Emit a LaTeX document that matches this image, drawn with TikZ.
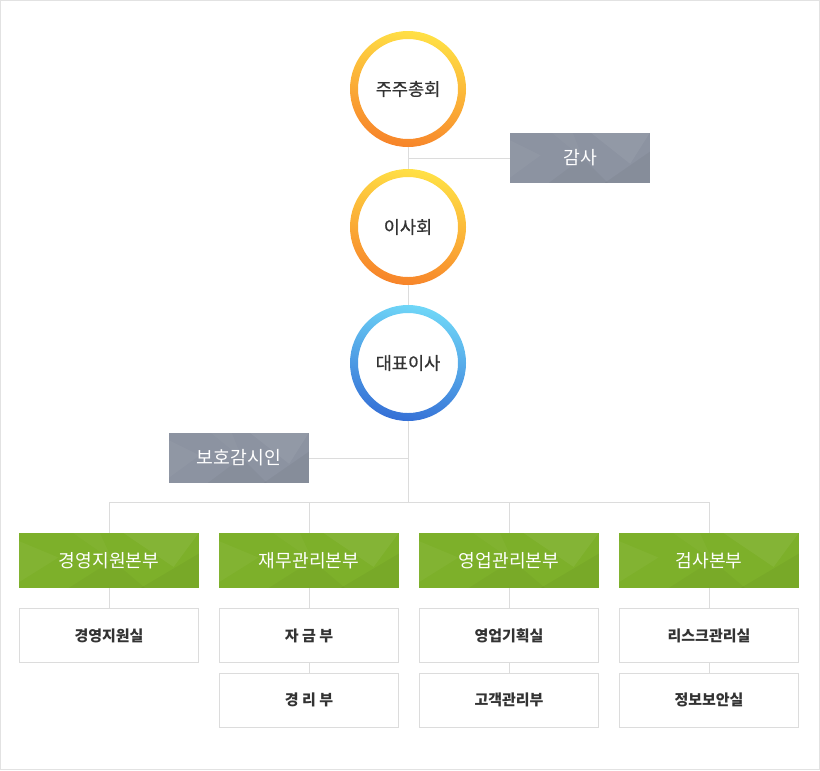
\documentclass[tikz,border=0pt]{standalone}
\usepackage{fontspec}
\setmainfont{Noto Sans CJK KR}
\newfontfamily\ringfont[FakeBold=0.6]{Noto Sans CJK KR}
\usetikzlibrary{positioning}

\definecolor{linegray}{HTML}{DCDCDC}
\definecolor{framegray}{HTML}{E2E2E2}
\definecolor{boxgray}{HTML}{8C93A1}
\definecolor{hqgreen}{HTML}{7DB02A}
\definecolor{txtdark}{HTML}{333333}
\definecolor{ringyellow}{HTML}{FFE045}
\definecolor{ringorange}{HTML}{F7842A}
\definecolor{ringcyan}{HTML}{6FD6F7}
\definecolor{ringblue}{HTML}{3570D6}

\tikzset{
  orgline/.style={draw=linegray, line width=0.03cm},
  ringtext/.style={circle, minimum size=3.48cm, inner sep=0pt, text=txtdark,
    font=\ringfont\fontsize{15}{17}\selectfont},
  sidebox/.style={rectangle, fill=boxgray, minimum width=4.2cm, minimum height=1.5cm,
    inner sep=0pt, text=white, font=\fontsize{15.6}{17}\selectfont},
  hqbox/.style={rectangle, fill=hqgreen, minimum width=5.4cm, minimum height=1.65cm,
    inner sep=0pt, text=white, font=\fontsize{15.5}{17}\selectfont},
  deptbox/.style={rectangle, draw=linegray, fill=white, line width=0.03cm,
    minimum width=5.37cm, minimum height=1.62cm, inner sep=0pt, text=txtdark,
    font=\fontsize{12.8}{14}\selectfont\bfseries},
  pics/facets/.style={code={
    \fill[white, opacity=.06] (0.58,0) -- (1,0) -- (0.86,0.62) -- cycle;
    \fill[white, opacity=.04] (0,0.15) -- (0.22,0.45) -- (0,0.9) -- cycle;
    \fill[black, opacity=.04] (0.68,1) -- (1,0.38) -- (1,1) -- cycle;
    \fill[black, opacity=.03] (0.28,1) -- (0.52,0.5) -- (0.7,1) -- cycle;
    \fill[white, opacity=.03] (0.3,0) -- (0.45,0) -- (0.52,0.5) -- cycle;
  }}
}

\begin{document}
\begin{tikzpicture}[x=0.03cm, y=-0.03cm]
  \useasboundingbox (0,0) rectangle (820,770);
  \draw[framegray, line width=0.03cm] (0.5,0.5) rectangle (819.5,769.5);

  % rings
  \shade[even odd rule, top color=ringyellow, bottom color=ringorange, shading angle=-12]
    (408,89) circle (1.74cm) (408,89) circle (1.5cm);
  \shade[even odd rule, top color=ringyellow, bottom color=ringorange, shading angle=-12]
    (408,227) circle (1.74cm) (408,227) circle (1.5cm);
  \shade[even odd rule, top color=ringcyan, bottom color=ringblue, shading angle=-12]
    (408,363) circle (1.74cm) (408,363) circle (1.5cm);

  \node[ringtext] (gms) at (408,89) {주주총회};
  \node[ringtext] (board) at (408,227) {이사회};
  \node[ringtext] (ceo) at (408,363) {대표이사};

  % side boxes
  \node[sidebox] (audit) at (580,158) {감사};
  \node[sidebox] (guard) at (239,458) {보호감시인};
  \pic[xscale=140, yscale=50] at (audit.north west) {facets};
  \pic[xscale=140, yscale=50] at (guard.north west) {facets};

  % headquarters
  \node[hqbox] (hqa) at (109,560.5) {경영지원본부};
  \node[hqbox] (hqb) at (309,560.5) {재무관리본부};
  \node[hqbox] (hqc) at (509,560.5) {영업관리본부};
  \node[hqbox] (hqd) at (709,560.5) {검사본부};
  \foreach \h in {hqa,hqb,hqc,hqd}
    \pic[xscale=180, yscale=55] at (\h.north west) {facets};

  % departments
  \node[deptbox] (da1) at (109,635.5) {경영지원실};
  \node[deptbox] (db1) at (309,635.5) {자 금 부};
  \node[deptbox] (db2) at (309,700) {경 리 부};
  \node[deptbox] (dc1) at (509,635.5) {영업기획실};
  \node[deptbox] (dc2) at (509,700) {고객관리부};
  \node[deptbox] (dd1) at (709,635.5) {리스크관리실};
  \node[deptbox] (dd2) at (709,700) {정보보안실};

  % lines
  \coordinate (bus) at (408,502);
  \draw[orgline] (gms.south) -- (board.north);
  \draw[orgline] (board.south) -- (ceo.north);
  \draw[orgline] (audit.west) -- (audit.west -| gms.south);
  \draw[orgline] (ceo.south) -- (bus);
  \draw[orgline] (guard.east) -- (guard.east -| ceo.south);
  \draw[orgline] (hqa.north |- bus) -- (hqd.north |- bus);
  \foreach \h in {hqa,hqb,hqc,hqd}
    \draw[orgline] (\h.north |- bus) -- (\h.north);
  \draw[orgline] (hqa.south) -- (da1.north);
  \draw[orgline] (hqb.south) -- (db1.north);
  \draw[orgline] (db1.south) -- (db2.north);
  \draw[orgline] (hqc.south) -- (dc1.north);
  \draw[orgline] (dc1.south) -- (dc2.north);
  \draw[orgline] (hqd.south) -- (dd1.north);
  \draw[orgline] (dd1.south) -- (dd2.north);
\end{tikzpicture}
\end{document}
